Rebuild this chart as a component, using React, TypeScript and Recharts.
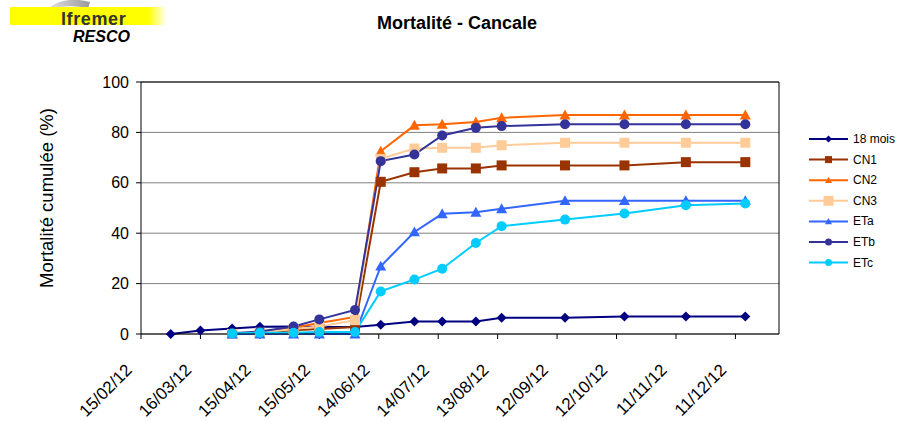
import React from "react";
import { LineChart, Line, XAxis, YAxis, CartesianGrid, ReferenceLine } from "recharts";

// sampling dates (18 mois starts two visits earlier than the others)
const allDates = [
  "01/03/12", "16/03/12", "01/04/12", "15/04/12", "02/05/12", "15/05/12", "02/06/12", "15/06/12",
  "02/07/12", "16/07/12", "02/08/12", "15/08/12", "16/09/12", "16/10/12", "16/11/12", "16/12/12",
];
const laterDates = allDates.slice(2);

const tickLabels = [
  "15/02/12", "16/03/12", "15/04/12", "15/05/12", "14/06/12", "14/07/12",
  "13/08/12", "12/09/12", "12/10/12", "11/11/12", "11/12/12",
];
const yTicks = [0, 20, 40, 60, 80, 100];

const mois18 = [0, 1.4, 2.2, 2.9, 3.0, 2.8, 2.8, 3.7, 5.0, 5.0, 5.0, 6.4, 6.4, 6.9, 6.9, 6.9];
const cn1 = [0, 0.5, 1.5, 2.0, 2.8, 60.4, 64.2, 65.7, 65.7, 66.9, 66.9, 66.9, 68.2, 68.2];
const cn2 = [0, 0.8, 2.5, 4.4, 6.8, 72.5, 82.8, 83.2, 84.1, 85.8, 86.9, 86.9, 86.9, 86.9];
const cn3 = [0, 0.5, 2.0, 3.0, 5.5, 69.5, 73.6, 73.9, 73.9, 74.9, 75.9, 75.9, 75.9, 75.9];
const eta = [0, 0, 0, 0, 0, 26.9, 40.5, 47.7, 48.3, 49.7, 52.9, 52.9, 52.9, 52.9];
const etb = [0.3, 1.0, 3.0, 5.8, 9.5, 68.6, 71.2, 78.8, 81.8, 82.5, 83.2, 83.2, 83.2, 83.2];
const etc = [0.2, 0.5, 0.5, 0.8, 0.8, 16.9, 21.6, 25.9, 36.1, 42.8, 45.4, 47.8, 51.1, 51.8];

const FONT = '"Liberation Sans", Arial, sans-serif';
const ORIGIN = Date.UTC(2012, 1, 15);

function toDay(s: string) {
  const [d, m, y] = s.split("/").map(Number);
  return Math.round((Date.UTC(2000 + y, m - 1, d) - ORIGIN) / 86400000);
}

const tickDays = tickLabels.map(toDay);
const labelByDay = new Map(tickDays.map((d, i) => [d, tickLabels[i]]));

function rows(dates: string[], values: number[]) {
  return dates.map((d, i) => ({ day: toDay(d), v: values[i] }));
}

type Shape = "diamond" | "square" | "triangle" | "circle";

const series: { name: string; dates: string[]; values: number[]; color: string; shape: Shape; legendSize: number }[] = [
  { name: "18 mois", dates: allDates, values: mois18, color: "#000080", shape: "diamond", legendSize: 7 },
  { name: "CN1", dates: laterDates, values: cn1, color: "#993300", shape: "square", legendSize: 7 },
  { name: "CN2", dates: laterDates, values: cn2, color: "#FF6600", shape: "triangle", legendSize: 7 },
  { name: "CN3", dates: laterDates, values: cn3, color: "#FFCC99", shape: "square", legendSize: 10 },
  { name: "ETa", dates: laterDates, values: eta, color: "#3366FF", shape: "triangle", legendSize: 7 },
  { name: "ETb", dates: laterDates, values: etb, color: "#333399", shape: "circle", legendSize: 7 },
  { name: "ETc", dates: laterDates, values: etc, color: "#00CCFF", shape: "circle", legendSize: 7 },
];

function marker(shape: Shape, cx: number, cy: number, color: string, size: number, key?: string) {
  const h = size / 2;
  switch (shape) {
    case "diamond":
      return <polygon key={key} points={`${cx},${cy - h} ${cx + h},${cy} ${cx},${cy + h} ${cx - h},${cy}`} fill={color} />;
    case "square":
      return <rect key={key} x={cx - h} y={cy - h} width={size} height={size} fill={color} />;
    case "triangle":
      return <polygon key={key} points={`${cx},${cy - h} ${cx + h},${cy + h * 0.8} ${cx - h},${cy + h * 0.8}`} fill={color} />;
    default:
      return <circle key={key} cx={cx} cy={cy} r={h} fill={color} />;
  }
}

function XTick(props: any) {
  const { x, y, payload } = props;
  const label = labelByDay.get(payload.value) ?? "";
  const tx = x - 8;
  const ty = y + 30;
  return (
    <text x={tx} y={ty} transform={`rotate(-45 ${tx} ${ty})`} textAnchor="end" fontSize={17} fill="#000" fontFamily={FONT}>
      {label}
    </text>
  );
}

export default function App() {
  return (
    <div style={{ position: "absolute", left: 0, top: 0, width: 897, height: 421, background: "#fff", fontFamily: FONT }}>
      <LineChart width={897} height={421} margin={{ top: 82, right: 118, bottom: 0, left: 0 }}>
        <CartesianGrid vertical={false} stroke="#808080" />
        <XAxis
          type="number"
          dataKey="day"
          domain={[0, 322]}
          ticks={tickDays}
          interval={0}
          height={87}
          tickSize={5}
          stroke="#000"
          tick={<XTick />}
          allowDataOverflow
        />
        <YAxis
          domain={[0, 100]}
          ticks={yTicks}
          interval={0}
          width={141}
          tickSize={5}
          tickMargin={7}
          stroke="#000"
          tick={{ fill: "#000", fontSize: 16, fontFamily: FONT }}
        />
        <ReferenceLine y={100} stroke="#000" />
        <ReferenceLine x={322} stroke="#000" />
        {series.map((s) => (
          <Line
            key={s.name}
            name={s.name}
            data={rows(s.dates, s.values)}
            dataKey="v"
            type="linear"
            stroke={s.color}
            strokeWidth={2}
            activeDot={false}
            isAnimationActive={false}
            dot={(p: any) =>
              p.cx == null || p.cy == null
                ? <g key={`${s.name}-${p.index}`} />
                : marker(s.shape, p.cx, p.cy, s.color, s.shape === "triangle" ? 11 : 10, `${s.name}-${p.index}`)
            }
          />
        ))}
      </LineChart>

      <svg width={897} height={421} style={{ position: "absolute", left: 0, top: 0, pointerEvents: "none" }}>
        <defs>
          <linearGradient id="band" x1="0" x2="1" y1="0" y2="0">
            <stop offset="0" stopColor="#FFFF00" />
            <stop offset="0.88" stopColor="#FFFF00" />
            <stop offset="1" stopColor="#FFFF00" stopOpacity="0" />
          </linearGradient>
          <linearGradient id="swoosh" x1="0" x2="1" y1="0" y2="0">
            <stop offset="0" stopColor="#e0e0e0" />
            <stop offset="1" stopColor="#999" />
          </linearGradient>
        </defs>
        {/* logo */}
        <path d="M48,9 C56,1 72,-3 90,2 L88,9 C76,5 62,6 48,9 Z" fill="url(#swoosh)" />
        <rect x={10} y={7} width={157} height={18} fill="url(#band)" />
        <text x={61} y={25} fontSize={18} fontWeight="bold" fill="#333" fontFamily={FONT} letterSpacing={0.6}>Ifremer</text>
        <text x={73} y={42} fontSize={16} fontWeight="bold" fontStyle="italic" fill="#000" fontFamily={FONT}>RESCO</text>

        {/* title */}
        <text x={457} y={29} fontSize={18} fontWeight="bold" textAnchor="middle" fill="#000" fontFamily={FONT}>
          Mortalité - Cancale
        </text>

        {/* y axis title */}
        <text x={53} y={198} fontSize={18.5} textAnchor="middle" fill="#000" fontFamily={FONT} transform="rotate(-90 53 198)">
          Mortalité cumulée (%)
        </text>

        {/* legend */}
        {series.map((s, i) => {
          const y = 139 + i * 20.6;
          return (
            <g key={s.name}>
              <line x1={809} x2={848} y1={y} y2={y} stroke={s.color} strokeWidth={2} />
              {marker(s.shape, 828.5, y, s.color, s.legendSize)}
              <text x={853} y={y + 4} fontSize={12} fill="#000" fontFamily={FONT}>{s.name}</text>
            </g>
          );
        })}
      </svg>
    </div>
  );
}
